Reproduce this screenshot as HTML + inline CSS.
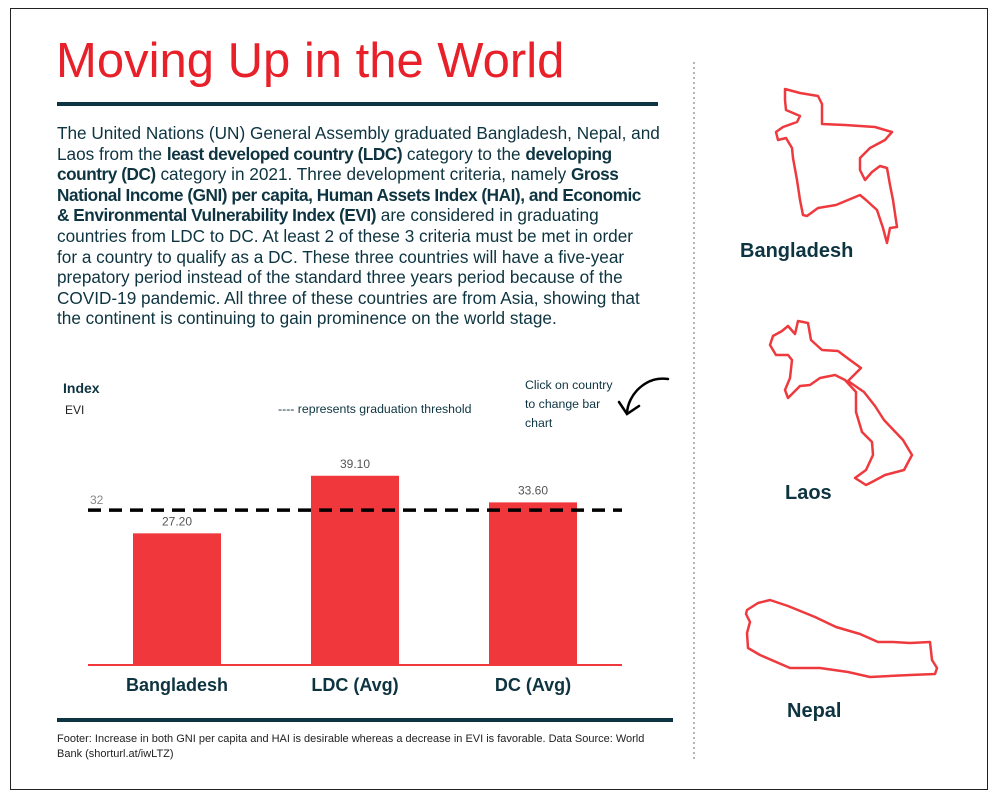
<!DOCTYPE html>
<html><head><meta charset="utf-8"><style>
body{margin:0;background:#fff;}
#frame{position:absolute;left:10px;top:8px;width:978px;height:782px;border:1px solid #222;box-sizing:border-box;}
.t{position:absolute;font-family:"Liberation Sans",sans-serif;color:#0d3440;white-space:nowrap;}
#para div{height:20.6px;}
b{font-weight:bold;letter-spacing:-0.45px;}
</style></head><body>
<div id="frame"></div>
<div class="t" style="left:56px;top:33px;font-size:49px;color:#e8202a;">Moving Up in the World</div>
<div style="position:absolute;left:57px;top:102px;width:601px;height:4px;background:#0d3440;"></div>
<div id="para" class="t" style="left:57px;top:123px;font-size:17.2px;line-height:20.6px;">
<div>The United Nations (UN) General Assembly graduated Bangladesh, Nepal, and</div>
<div>Laos from the <b>least developed country (LDC)</b> category to the <b>developing</b></div>
<div><b>country (DC)</b> category in 2021. Three development criteria, namely <b>Gross</b></div>
<div><b>National Income (GNI) per capita, Human Assets Index (HAI), and Economic</b></div>
<div><b>&amp; Environmental Vulnerability Index (EVI)</b> are considered in graduating</div>
<div>countries from LDC to DC. At least 2 of these 3 criteria must be met in order</div>
<div>for a country to qualify as a DC. These three countries will have a five-year</div>
<div>prepatory period instead of the standard three years period because of the</div>
<div>COVID-19 pandemic. All three of these countries are from Asia, showing that</div>
<div>the continent is continuing to gain prominence on the world stage.</div>
</div>
<div class="t" style="left:63px;top:380px;font-size:14px;font-weight:bold;">Index</div>
<div class="t" style="left:65px;top:403px;font-size:12px;color:#222;">EVI</div>
<div class="t" style="left:278px;top:402px;font-size:12.3px;">---- represents graduation threshold</div>
<div class="t" style="left:525px;top:376px;font-size:12.3px;line-height:19px;">Click on country<br>to change bar<br>chart</div>
<svg style="position:absolute;left:0;top:0" width="999" height="799">
<path d="M668 379 C645 376 628 395 627 413 M619 402 L627 414 L639 406" stroke="#000" stroke-width="2.5" fill="none" stroke-linecap="round"/>
<g id="bars"></g>
<line x1="694" y1="62" x2="694" y2="760" stroke="#7a8a8a" stroke-width="1.2" stroke-dasharray="2,3"/>
<rect x="57" y="718" width="616" height="4" fill="#0d3440"/>
<polygon fill="none" stroke="#ee3a3e" stroke-width="2.5" stroke-linejoin="round" points="785,89 800,93 818,96 822,104 822,124 845,125 875,127 892,132 885,140 870,148 860,158 860,170 865,180 872,172 880,166 887,168 890,185 893,200 897,227 890,228 887,243 883,228 877,210 866,200 860,195 848,200 836,205 818,208 807,216 803,215 800,200 797,180 793,158 792,148 786,138 778,140 776,132 783,127 797,122 800,116 786,110 785,100"/>
<polygon fill="none" stroke="#ee3a3e" stroke-width="2.5" stroke-linejoin="round" points="798,321 808,323 811,340 822,350 838,351 850,360 861,368 848,381 864,392 875,406 884,420 903,440 912,455 904,470 885,475 872,482 866,485 855,478 866,470 873,455 872,442 862,432 856,412 856,392 845,380 835,375 820,378 810,385 800,386 788,398 785,390 790,378 792,360 788,355 776,355 770,345 773,336 782,331 788,326 795,334"/>
<polygon fill="none" stroke="#ee3a3e" stroke-width="2.5" stroke-linejoin="round" points="747,610 758,603 770,600 788,606 815,617 836,627 860,634 878,642 893,642 910,643 930,642 932,660 937,668 935,674 910,675 870,677 848,672 820,668 790,668 760,655 748,648 747,633 750,622 746,614"/>
</svg>
<div class="t" style="left:740px;top:240px;font-size:20px;font-weight:bold;">Bangladesh</div>
<div class="t" style="left:785px;top:482px;font-size:20px;font-weight:bold;">Laos</div>
<div class="t" style="left:787px;top:700px;font-size:20px;font-weight:bold;">Nepal</div>
<div class="t" style="left:57px;top:732px;font-size:11px;line-height:15px;color:#222;">Footer: Increase in both GNI per capita and HAI is desirable whereas a decrease in EVI is favorable. Data Source: World<br>Bank (shorturl.at/iwLTZ)</div>
<script>
const categories=["Bangladesh","LDC (Avg)","DC (Avg)"];
const values=[27.2,39.1,33.6];
const valueLabels=["27.20","39.10","33.60"];
const threshold=32;
const NS="http://www.w3.org/2000/svg";
const g=document.getElementById('bars');
const y=v=>665-v*4.84;
const xc=i=>177+i*178;
function mk(t,a){const e=document.createElementNS(NS,t);for(const k in a)e.setAttribute(k,a[k]);g.appendChild(e);return e;}
categories.forEach((c,i)=>{
 const r=mk('rect',{x:xc(i)-44,y:y(values[i]),width:88,height:665-y(values[i]),fill:'#ef373c'});
 
 
 const v=mk('text',{x:xc(i),y:y(values[i])-8,'text-anchor':'middle','font-size':12,fill:'#555','font-family':'Liberation Sans, sans-serif'});
 v.textContent=valueLabels[i];
 
 
 const l=mk('text',{x:xc(i),y:691,'text-anchor':'middle','font-size':18,'font-weight':'bold',fill:'#0d3440','font-family':'Liberation Sans, sans-serif'});
 l.textContent=c;
 
 
});
const base=mk('line',{x1:88,x2:622,y1:665,y2:665,stroke:'#ef373c','stroke-width':2});


const th=mk('line',{x1:88,x2:622,y1:y(threshold),y2:y(threshold),stroke:'#000','stroke-width':3.5,'stroke-dasharray':'13,8'});


const tl=mk('text',{x:90,y:y(threshold)-6,'font-size':12,fill:'#888','font-family':'Liberation Sans, sans-serif'});
tl.textContent=threshold;


</script>
</body></html>
